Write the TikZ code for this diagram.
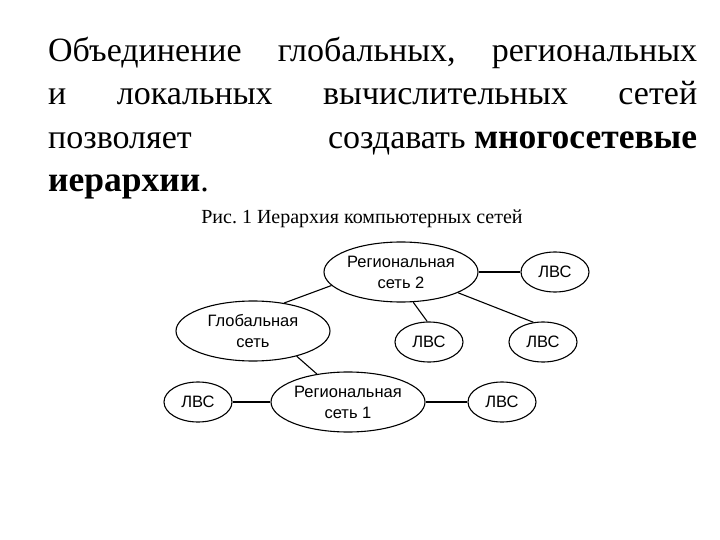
\documentclass[tikz,border=0pt]{standalone}
\usepackage{fontspec}
\setmainfont{Liberation Serif}
\newfontfamily\diagfont{Liberation Sans}
\usetikzlibrary{shapes.geometric}
\frenchspacing
\newcommand{\boldbig}[1]{{\fontsize{35.5}{40}\selectfont\textbf{#1}}}
\tikzset{
  net/.style={ellipse, draw, line width=1.1pt, inner sep=0pt, align=center,
    font=\diagfont\fontsize{16.5}{21}\selectfont},
  big/.style={net, minimum width=154pt, minimum height=60pt},
  lvs/.style={net, minimum width=68pt, minimum height=40pt},
  link/.style={line width=1.1pt},
  bodyline/.style={anchor=base west, inner sep=0pt, font=\fontsize{34}{40}\selectfont}
}
\begin{document}
\begin{tikzpicture}[x=1pt,y=-1pt]
\useasboundingbox (0,0) rectangle (720,540);
\node[bodyline] (t1) at (48,62) {\hbox to 649pt{Объединение\hfill глобальных,\hfill региональных}};
\node[bodyline] (t2) at (48,105) {\hbox to 649pt{и\hfill локальных\hfill вычислительных\hfill сетей}};
\node[bodyline] (t3) at (48,149) {\hbox to 649pt{позволяет\hfill создавать \boldbig{многосетевые}}};
\node[bodyline] (t4) at (48,192) {\boldbig{иерархии}.};
\node[anchor=base, inner sep=0pt, font=\fontsize{20}{24}\selectfont] (cap) at (362,223) {Рис.\ 1 Иерархия компьютерных сетей};

\node[big] (reg2) at (401,272) {Региональная\\сеть 2};
\node[big] (glob) at (253,331) {Глобальная\\сеть};
\node[big] (reg1) at (348,402) {Региональная\\сеть 1};
\node[lvs] (l1) at (555,272) {ЛВС};
\node[lvs] (l2) at (429,342) {ЛВС};
\node[lvs] (l3) at (543,342) {ЛВС};
\node[lvs] (l4) at (198,402) {ЛВС};
\node[lvs] (l5) at (502,402) {ЛВС};

\draw[link] (glob.42) -- (reg2.191);
\draw[link] (reg2.east) -- (l1.west);
\draw[link] (reg2.-68) -- (l2.95);
\draw[link] (reg2.-20) -- (l3.116);
\draw[link] (glob.-30) -- (reg1.138);
\draw[link] (reg1.west) -- (l4.east);
\draw[link] (reg1.east) -- (l5.west);
\end{tikzpicture}
\end{document}
